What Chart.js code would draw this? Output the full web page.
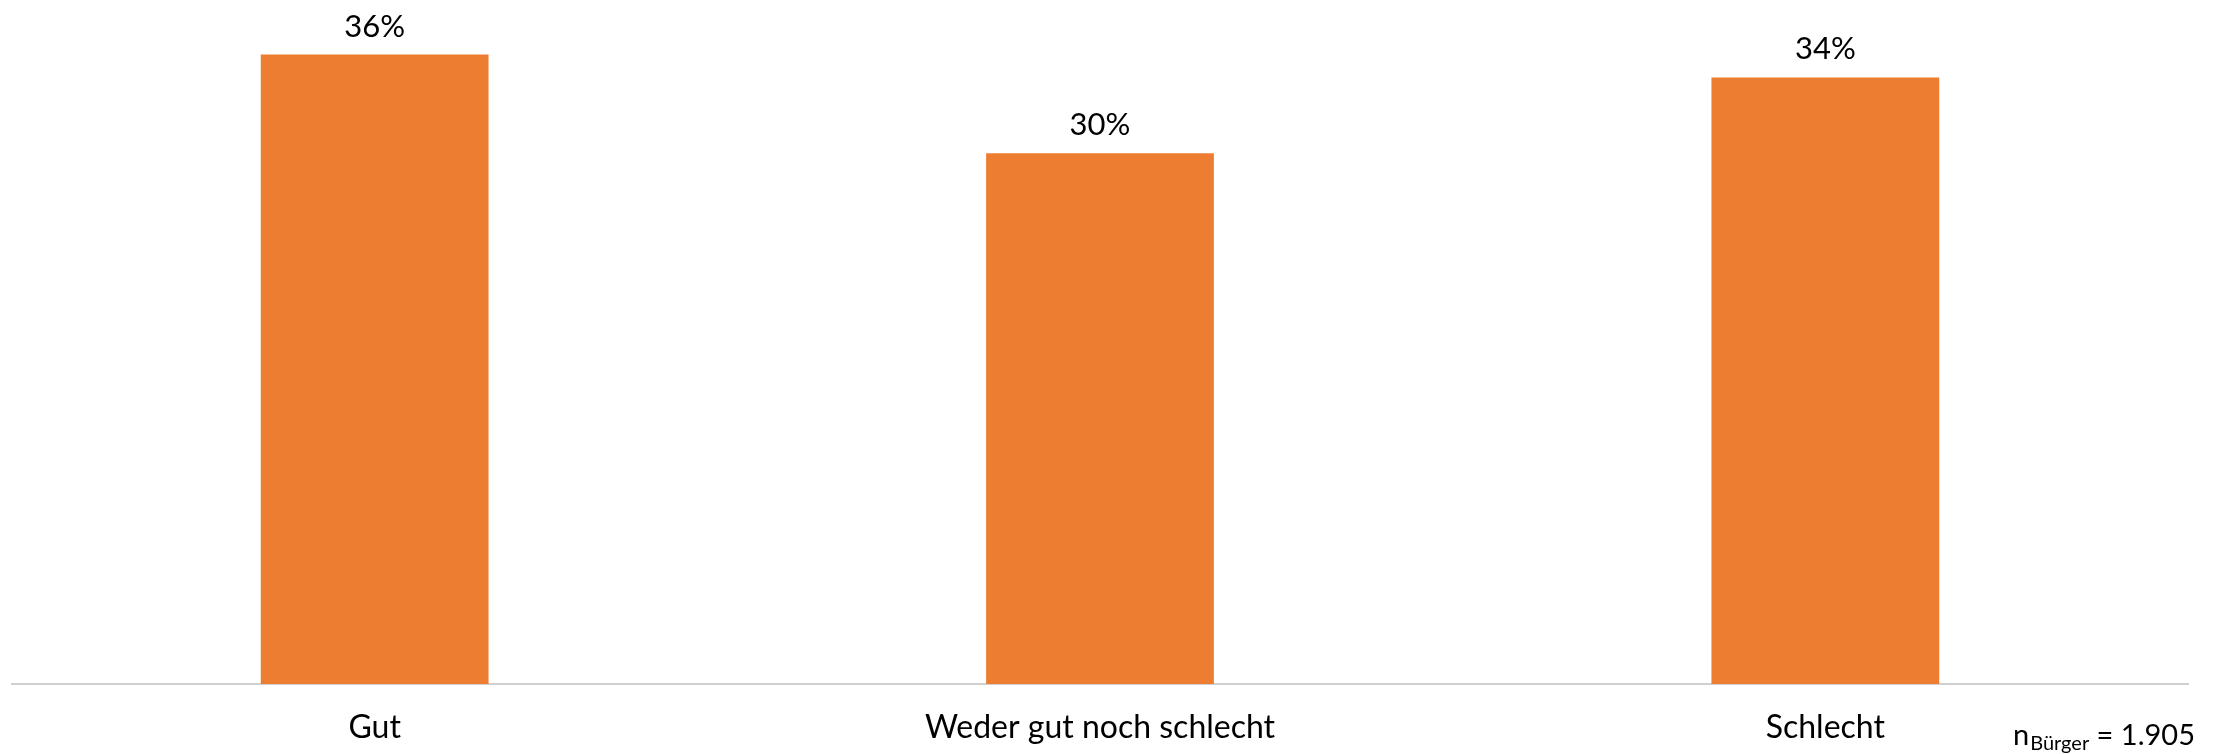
<!DOCTYPE html>
<html>
<head>
<meta charset="utf-8">
<script src="https://cdn.jsdelivr.net/npm/chart.js@4.4.0/dist/chart.umd.min.js"></script>
<style>
  html, body { margin: 0; padding: 0; background: #fff; }
  #wrap { width: 2236px; height: 754px; }
</style>
</head>
<body>
<div id="wrap"><canvas id="chart" width="2236" height="754"></canvas></div>
<script>
const categories = ['Gut', 'Weder gut noch schlecht', 'Schlecht'];
const shares = [35.7, 30.1, 34.4];
const sampleLabel = { n: 'n', sub: 'Bürger', rest: ' = 1.905' };

const fontFamily = 'Lato, "Open Sans", sans-serif';

/* value labels above the bars + sample size note */
const annotations = {
  id: 'annotations',
  afterDatasetsDraw(chart) {
    const ctx = chart.ctx;
    const meta = chart.getDatasetMeta(0);
    ctx.save();
    ctx.fillStyle = '#000';
    ctx.textAlign = 'center';
    ctx.textBaseline = 'alphabetic';
    ctx.font = '31px ' + fontFamily;
    meta.data.forEach((bar, i) => {
      ctx.fillText(Math.round(shares[i]) + '%', bar.x, bar.y - 18);
    });

    // n_Bürger note, bottom right
    ctx.textAlign = 'left';
    let x = 2013;
    ctx.font = '29px ' + fontFamily;
    ctx.fillText(sampleLabel.n, x, 745);
    x += ctx.measureText(sampleLabel.n).width + 1;
    ctx.font = '20px ' + fontFamily;
    ctx.fillText(sampleLabel.sub, x, 750);
    x += ctx.measureText(sampleLabel.sub).width;
    ctx.font = '29px ' + fontFamily;
    ctx.fillText(sampleLabel.rest, x, 745);
    ctx.restore();
  }
};

new Chart(document.getElementById('chart'), {
  type: 'bar',
  data: {
    labels: categories,
    datasets: [{
      data: shares,
      backgroundColor: '#ED7D31',
      borderWidth: 0,
      categoryPercentage: 1,
      barPercentage: 0.314
    }]
  },
  options: {
    responsive: false,
    devicePixelRatio: 1,
    animation: false,
    layout: {
      padding: { top: 14, right: 48, bottom: 0, left: 12 }
    },
    plugins: {
      legend: { display: false },
      tooltip: { enabled: false }
    },
    scales: {
      x: {
        grid: { display: false, drawTicks: false },
        border: { display: true, color: '#D0D0D0', width: 2 },
        ticks: {
          color: '#000',
          padding: 24,
          font: { family: fontFamily, size: 32 }
        },
        afterFit(scale) {
          scale.height = 70;
        }
      },
      y: {
        display: false,
        min: 0,
        max: 38
      }
    }
  },
  plugins: [annotations]
});
</script>
</body>
</html>
